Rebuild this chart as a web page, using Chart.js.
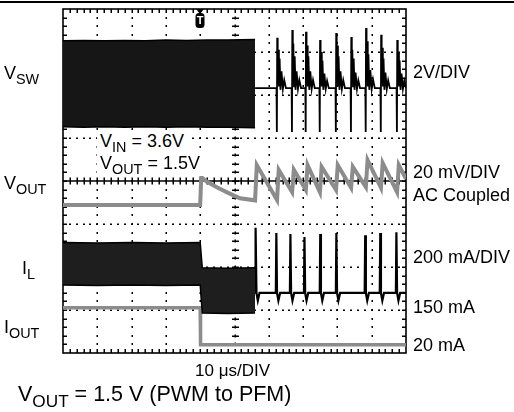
<!DOCTYPE html>
<html>
<head>
<meta charset="utf-8">
<script src="https://cdn.jsdelivr.net/npm/chart.js@4/dist/chart.umd.min.js"></script>
<style>
  html, body { margin: 0; padding: 0; background: #fff; }
  #wrap { position: relative; width: 514px; height: 412px; overflow: hidden; font-family: "Liberation Sans", Arial, sans-serif; color: #000; }
  #c { position: absolute; left: 0; top: 0; }
  #rule { position: absolute; left: 0; top: 1px; width: 514px; height: 2px; background: #000; }
  .lbl { position: absolute; white-space: nowrap; line-height: 1; font-size: 18px; }
  .sub { font-size: 0.8em; position: relative; top: 0.36em; }
  .boxed { background: #fff; padding: 1px 3px 4px 3px; }
</style>
</head>
<body>
<div id="wrap">
  <canvas id="c" width="514" height="412"></canvas>
  <div id="rule"></div>
  <div class="lbl" style="left:4px; top:64px;">V<span class="sub">SW</span></div>
  <div class="lbl boxed" style="left:97px; top:131px;">V<span class="sub">IN</span> = 3.6V</div>
  <div class="lbl boxed" style="left:97px; top:153px;">V<span class="sub">OUT</span> = 1.5V</div>
  <div class="lbl" style="left:4px; top:174px;">V<span class="sub">OUT</span></div>
  <div class="lbl" style="left:22px; top:259px;">I<span class="sub">L</span></div>
  <div class="lbl" style="left:4px; top:318px;">I<span class="sub">OUT</span></div>
  <div class="lbl" style="left:413px; top:63px;">2V/DIV</div>
  <div class="lbl" style="left:413px; top:163px;">20 mV/DIV</div>
  <div class="lbl" style="left:413px; top:186px;">AC Coupled</div>
  <div class="lbl" style="left:413px; top:248px;">200 mA/DIV</div>
  <div class="lbl" style="left:413px; top:298px;">150 mA</div>
  <div class="lbl" style="left:413px; top:336px;">20 mA</div>
  <div class="lbl" style="left:195px; top:362px; font-size:17px;">10 μs/DIV</div>
  <div class="lbl" style="left:18px; top:384px; font-size:21.5px;">V<span class="sub">OUT</span> = 1.5 V (PWM to PFM)</div>
</div>
<script>
// ---- data (x in microseconds, y in scope divisions) ----
const xTicksMicroseconds = [0, 10, 20, 30, 40, 50, 60, 70, 80, 90, 100];
const yTicksDivisions = [-4, -3, -2, -1, 0, 1, 2, 3, 4];
const triggerTime = 40;

const vswBandTop = [
  [0, 3.26], [6, 3.27], [12, 3.26], [18, 3.27], [24, 3.26], [30, 3.28],
  [36, 3.27], [42, 3.28], [48, 3.28], [56.0, 3.29]
];
const vswBandBottom = [
  [0, 1.26], [6, 1.25], [12, 1.26], [18, 1.25], [24, 1.26], [30, 1.25],
  [36, 1.26], [42, 1.25], [48, 1.25], [56.0, 1.24]
];
const vswPfm = [
  [56.0, 2.16],
  [62.25, 2.16], [62.35, 1.14], [62.45, 3.33], [62.6, 2.3], [62.75, 3.05], [62.95, 2.2], [63.15, 2.85], [63.4, 2.12], [63.7, 2.55], [64.1, 2.14], [64.5, 2.35], [65.0, 2.16],
  [66.65, 2.16], [66.75, 1.14], [66.85, 3.51], [67.0, 2.3], [67.15, 3.2], [67.35, 2.2], [67.55, 2.9], [67.8, 2.12], [68.1, 2.55], [68.5, 2.14], [68.9, 2.35], [69.4, 2.16],
  [70.65, 2.16], [70.75, 1.14], [70.85, 3.47], [71.0, 2.3], [71.15, 3.15], [71.35, 2.2], [71.55, 2.9], [71.8, 2.12], [72.1, 2.55], [72.5, 2.14], [72.9, 2.35], [73.4, 2.16],
  [74.75, 2.16], [74.85, 1.14], [74.95, 3.28], [75.1, 2.3], [75.25, 3.0], [75.45, 2.2], [75.65, 2.8], [75.9, 2.12], [76.2, 2.5], [76.6, 2.14], [77.0, 2.33], [77.5, 2.16],
  [79.45, 2.16], [79.55, 1.14], [79.65, 3.44], [79.8, 2.3], [79.95, 3.15], [80.15, 2.2], [80.35, 2.9], [80.6, 2.12], [80.9, 2.55], [81.3, 2.14], [81.7, 2.35], [82.2, 2.16],
  [83.85, 2.16], [83.95, 1.14], [84.05, 3.35], [84.2, 2.3], [84.35, 3.05], [84.55, 2.2], [84.75, 2.85], [85.0, 2.12], [85.3, 2.52], [85.7, 2.14], [86.1, 2.34], [86.6, 2.16],
  [88.15, 2.16], [88.25, 1.14], [88.35, 3.56], [88.5, 2.3], [88.65, 3.25], [88.85, 2.2], [89.05, 2.95], [89.3, 2.12], [89.6, 2.58], [90.0, 2.14], [90.4, 2.36], [90.9, 2.16],
  [92.55, 2.16], [92.65, 1.14], [92.75, 3.40], [92.9, 2.3], [93.05, 3.1], [93.25, 2.2], [93.45, 2.85], [93.7, 2.12], [94.0, 2.52], [94.4, 2.14], [94.8, 2.34], [95.3, 2.16],
  [97.25, 2.16], [97.35, 1.14], [97.45, 3.28], [97.6, 2.3], [97.75, 3.0], [97.95, 2.2], [98.15, 2.8], [98.4, 2.12], [98.7, 2.5], [99.1, 2.14], [99.5, 2.33], [100, 2.16]
];
const voutTrace = [
  [0, -0.56], [40.0, -0.56], [40.3, 0.09], [42, -0.02], [45, -0.15], [48, -0.27], [51.6, -0.40], [56.0, -0.45],
  [56.5, 0.37], [62.4, -0.44],
  [62.9, 0.26], [66.8, -0.26],
  [67.3, 0.26], [70.8, -0.21],
  [71.3, 0.37], [74.9, -0.26],
  [75.4, 0.33], [79.6, -0.21],
  [80.1, 0.37], [84.0, -0.16],
  [84.5, 0.33], [88.3, -0.14],
  [88.8, 0.49], [92.7, -0.16],
  [93.2, 0.42], [97.4, -0.26],
  [97.9, 0.37], [100, 0.05]
];
const ilBandTop = [
  [0, -1.43], [10, -1.44], [20, -1.43], [30, -1.44],
  [40.0, -1.43], [40.6, -2.02], [48, -2.03], [56.0, -2.02]
];
const ilBandBottom = [
  [0, -2.42], [10, -2.43], [20, -2.42], [30, -2.43],
  [40.0, -2.42], [40.6, -3.07], [48, -3.08], [56.0, -3.07]
];
const ilPfm = [
  [56.0, -2.6], [56.15, -1.09], [56.4, -2.6], [56.8, -2.78], [57.3, -2.6],
  [62.05, -2.6], [62.2, -1.21], [62.4, -2.6], [62.8, -2.78], [63.3, -2.6],
  [66.15, -2.6], [66.3, -1.23], [66.5, -2.6], [66.9, -2.78], [67.4, -2.6],
  [70.25, -2.6], [70.4, -1.30], [70.6, -2.6], [71.0, -2.78], [71.5, -2.6],
  [74.85, -2.6], [75.0, -1.23], [75.2, -2.6], [75.6, -2.78], [76.1, -2.6],
  [79.55, -2.6], [79.7, -1.21], [79.9, -2.6], [80.3, -2.78], [80.8, -2.6],
  [87.95, -2.6], [88.1, -1.26], [88.3, -2.6], [88.7, -2.78], [89.2, -2.6],
  [92.35, -2.6], [92.5, -1.21], [92.7, -2.6], [93.1, -2.78], [93.6, -2.6],
  [97.05, -2.6], [97.2, -1.19], [97.4, -2.6], [97.8, -2.78], [98.3, -2.6],
  [100, -2.6]
];
const ioutTrace = [[0, -2.95], [40.0, -2.95], [40.1, -3.81], [100, -3.81]];

// ---- chart ----
const toXY = arr => arr.map(p => ({ x: p[0], y: p[1] }));
const BLACK = '#000';
const GRAY = '#8c8c8c';

const scopeGrid = {
  id: 'scopeGrid',
  beforeDatasetsDraw(chart) {
    const { ctx, chartArea: a, scales: { x, y } } = chart;
    const xMin = xTicksMicroseconds[0], xMax = xTicksMicroseconds[xTicksMicroseconds.length - 1];
    const yMin = yTicksDivisions[0], yMax = yTicksDivisions[yTicksDivisions.length - 1];
    const xStep = xTicksMicroseconds[1] - xTicksMicroseconds[0];
    const yStep = yTicksDivisions[1] - yTicksDivisions[0];
    const xMinor = xStep / 5, yMinor = yStep / 5;
    const xc = (xMin + xMax) / 2, yc = (yMin + yMax) / 2;
    ctx.save();
    ctx.fillStyle = BLACK;
    xTicksMicroseconds.forEach(v => {
      if (v === xMin || v === xMax || v === xc) return;
      const px = Math.round(x.getPixelForValue(v));
      for (let m = yMin + yMinor; m < yMax - 1e-9; m += yMinor) {
        const py = Math.round(y.getPixelForValue(m));
        ctx.fillRect(px - 0.5, py - 1, 1.5, 2);
      }
    });
    yTicksDivisions.forEach(v => {
      if (v === yMin || v === yMax || v === yc) return;
      const py = Math.round(y.getPixelForValue(v));
      for (let m = xMin + xMinor; m < xMax - 1e-9; m += xMinor) {
        const px = Math.round(x.getPixelForValue(m));
        ctx.fillRect(px - 1, py - 0.5, 2, 1.5);
      }
    });
    const pyc = Math.round(y.getPixelForValue(yc));
    ctx.fillRect(a.left, pyc - 0.75, a.right - a.left, 1.5);
    for (let m = xMin + xMinor; m < xMax - 1e-9; m += xMinor) {
      const px = Math.round(x.getPixelForValue(m));
      ctx.fillRect(px - 0.5, pyc - 3.5, 1.5, 7);
    }
    const pxc = Math.round(x.getPixelForValue(xc));
    for (let m = yMin + yMinor; m < yMax - 1e-9; m += yMinor) {
      const py = Math.round(y.getPixelForValue(m));
      ctx.fillRect(pxc - 3, py - 0.5, 7, 1.5);
      ctx.fillRect(pxc - 0.5, py - 1.5, 1.5, 3);
    }
    for (let m = xMin + xMinor; m < xMax - 1e-9; m += xMinor) {
      const px = Math.round(x.getPixelForValue(m));
      ctx.fillRect(px - 0.5, a.top, 1.5, 4);
      ctx.fillRect(px - 0.5, a.bottom - 4, 1.5, 4);
    }
    for (let m = yMin + yMinor; m < yMax - 1e-9; m += yMinor) {
      const py = Math.round(y.getPixelForValue(m));
      ctx.fillRect(a.left, py - 0.5, 4, 1.5);
      ctx.fillRect(a.right - 4, py - 0.5, 4, 1.5);
    }
    ctx.strokeStyle = BLACK;
    ctx.lineWidth = 1.6;
    ctx.strokeRect(a.left, a.top, a.right - a.left, a.bottom - a.top);
    ctx.restore();
  },
  afterDatasetsDraw(chart) {
    const { ctx, chartArea: a, scales: { x } } = chart;
    const px = Math.round(x.getPixelForValue(triggerTime));
    ctx.save();
    ctx.fillStyle = BLACK;
    ctx.beginPath();
    ctx.moveTo(px - 4, a.top);
    ctx.lineTo(px + 4, a.top);
    ctx.lineTo(px, a.top + 5);
    ctx.closePath();
    ctx.fill();
    ctx.beginPath();
    ctx.roundRect(px - 4.5, a.top + 4, 9, 15, 3.5);
    ctx.fill();
    ctx.fillStyle = '#fff';
    ctx.font = 'bold 11px "Liberation Sans", Arial, sans-serif';
    ctx.textAlign = 'center';
    ctx.textBaseline = 'middle';
    ctx.fillText('T', px, a.top + 12);
    ctx.restore();
  }
};

const line = (data, color, width, extra) => Object.assign({
  data: toXY(data), borderColor: color, borderWidth: width, pointRadius: 0,
  tension: 0, fill: false, backgroundColor: color
}, extra || {});

new Chart(document.getElementById('c'), {
  type: 'line',
  data: {
    datasets: [
      line(vswBandTop, BLACK, 1.5),
      line(vswBandBottom, BLACK, 1.5, { fill: '-1', backgroundColor: '#161616' }),
      line(vswPfm, BLACK, 1.8),
      line(voutTrace, GRAY, 4),
      line(ilBandTop, BLACK, 1.5),
      line(ilBandBottom, BLACK, 1.5, { fill: '-1', backgroundColor: '#1e1e1e' }),
      line(ilPfm, BLACK, 2.2),
      line(ioutTrace, GRAY, 3.5)
    ]
  },
  options: {
    responsive: false,
    animation: false,
    devicePixelRatio: 1,
    layout: { padding: { left: 63, right: 108, top: 9, bottom: 59 } },
    plugins: { legend: { display: false }, tooltip: { enabled: false }, title: { display: false } },
    scales: {
      x: { type: 'linear', min: xTicksMicroseconds[0], max: xTicksMicroseconds[xTicksMicroseconds.length - 1], display: false },
      y: { type: 'linear', min: yTicksDivisions[0], max: yTicksDivisions[yTicksDivisions.length - 1], display: false }
    }
  },
  plugins: [scopeGrid]
});
</script>
</body>
</html>
